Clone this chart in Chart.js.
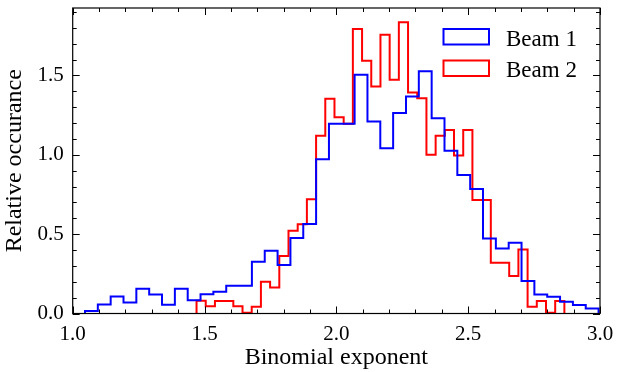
<!DOCTYPE html>
<html>
<head>
<meta charset="utf-8">
<script src="https://cdn.jsdelivr.net/npm/chart.js@4.4.1/dist/chart.umd.min.js"></script>
<style>
  html, body { margin: 0; padding: 0; background: #fff; }
  #wrap { width: 617px; height: 372px; }
</style>
</head>
<body>
<div id="wrap"><canvas id="chart" width="617" height="372"></canvas></div>
<script>
// histogram bins: first left edge and bin width for each beam
const beam1Start = 1.0466
const beam1Width = 0.0487
const beam2Start = 1.4697
const beam2Width = 0.03488

// relative occurance per bin (40 bins each)
const beam1 = [
  0.015, 0.057, 0.107, 0.069, 0.156, 0.120, 0.055, 0.156, 0.084, 0.122,
  0.137, 0.175, 0.175, 0.326, 0.396, 0.305, 0.476, 0.564, 0.972, 1.195,
  1.195, 1.505, 1.210, 1.042, 1.263, 1.368, 1.526, 1.231, 1.025, 0.873,
  0.785, 0.473, 0.410, 0.446, 0.204, 0.120, 0.105, 0.074, 0.053, 0.032
]
const beam2 = [
  0.080, 0.046, 0.078, 0.078, 0.046, 0.004, 0.042, 0.200, 0.164, 0.362,
  0.522, 0.562, 0.720, 1.120, 1.353, 1.237, 1.195, 1.793, 1.593, 1.431,
  1.757, 1.473, 1.835, 1.393, 1.357, 1.000, 1.120, 1.157, 0.995, 1.157,
  0.715, 0.715, 0.320, 0.320, 0.236, 0.404, 0.042, 0.078, 0.004, 0.078
]

const labels = ['Beam 1', 'Beam 2']
const xTicks = [1.0, 1.5, 2.0, 2.5, 3.0]
const yTicks = [0.0, 0.5, 1.0, 1.5]

const FONT = '"Liberation Serif", "DejaVu Serif", serif'

// turn bin values into the corner points of a step outline
function stepPoints(start, width, vals) {
  let pts = [{x: start, y: 0}]
  for (let i = 0; i < vals.length; i++) {
    pts.push({x: start + i * width, y: vals[i]})
  }
  pts.push({x: start + vals.length * width, y: 0})
  return pts
}

function make_dataset(label, color, pts) {
  return {
    label: label,
    data: pts,
    borderColor: color,
    backgroundColor: 'rgba(0,0,0,0)',
    borderWidth: 2,
    pointRadius: 0,
    // 'before' = go across at the old value, then up/down at the new edge
    stepped: 'before',
    fill: false,
    clip: 4
  }
}

// frame with inward ticks on all four sides, plus the legend box
const framePlugin = {
  id: 'frame',
  afterDatasetsDraw(chart) {
    const ctx = chart.ctx
    const a = chart.chartArea
    const xs = chart.scales.x
    const ys = chart.scales.y
    ctx.save()
    ctx.strokeStyle = '#000'
    ctx.lineWidth = 1
    ctx.beginPath()
    // minor ticks every 0.1
    for (let v = 10; v <= 30; v++) {
      const px = Math.round(xs.getPixelForValue(v / 10)) + 0.5
      const len = (v % 5 == 0) ? 7 : 4
      ctx.moveTo(px, a.bottom); ctx.lineTo(px, a.bottom - len)
      ctx.moveTo(px, a.top); ctx.lineTo(px, a.top + len)
    }
    for (let v = 0; v <= 19; v++) {
      const py = Math.round(ys.getPixelForValue(v / 10)) + 0.5
      const len = (v % 5 == 0) ? 7 : 4
      ctx.moveTo(a.left, py); ctx.lineTo(a.left + len, py)
      ctx.moveTo(a.right, py); ctx.lineTo(a.right - len, py)
    }
    ctx.stroke()
    ctx.lineWidth = 1.2
    ctx.strokeRect(a.left, a.top, a.right - a.left, a.bottom - a.top)

    // legend
    ctx.font = '23px ' + FONT
    ctx.textBaseline = 'alphabetic'
    ctx.fillStyle = '#000'
    chart.data.datasets.forEach((ds, i) => {
      const top = 29 + i * 31.5
      ctx.strokeStyle = ds.borderColor
      ctx.lineWidth = 2
      ctx.strokeRect(443.5, top, 45.5, 15.5)
      ctx.fillText(ds.label, 506, top + 16.5)
    })
    ctx.restore()
  }
}

const data = {
  datasets: [
    make_dataset(labels[0], '#0000ff', stepPoints(beam1Start, beam1Width, beam1)),
    make_dataset(labels[1], '#ff0000', stepPoints(beam2Start, beam2Width, beam2))
  ]
}

const config = {
  type: 'line',
  data: data,
  options: {
    responsive: false,
    devicePixelRatio: 1,
    animation: false,
    layout: {padding: {top: 8, right: 17, left: 0, bottom: 0}},
    plugins: {legend: {display: false}, tooltip: {enabled: false}},
    scales: {
      x: {
        type: 'linear',
        min: 1.0,
        max: 3.0,
        afterBuildTicks: s => { s.ticks = xTicks.map(v => ({value: v})) },
        afterFit: s => { s.height = 58.5; s.paddingLeft = 0; s.paddingRight = 0 },
        ticks: {
          color: '#000',
          padding: 8,
          maxRotation: 0,
          font: {family: FONT, size: 21},
          callback: v => v.toFixed(1)
        },
        grid: {display: false, drawTicks: false},
        border: {display: false},
        title: {
          display: true,
          text: 'Binomial exponent',
          color: '#000',
          font: {family: FONT, size: 24},
          padding: {top: 0, bottom: 0}
        }
      },
      y: {
        type: 'linear',
        min: 0,
        max: 1.925,
        afterBuildTicks: s => { s.ticks = yTicks.map(v => ({value: v})) },
        afterFit: s => { s.width = 72.7; s.paddingTop = 0; s.paddingBottom = 0 },
        ticks: {
          color: '#000',
          padding: 9,
          font: {family: FONT, size: 21},
          callback: v => v.toFixed(1)
        },
        grid: {display: false, drawTicks: false},
        border: {display: false},
        title: {
          display: true,
          text: 'Relative occurance',
          color: '#000',
          font: {family: FONT, size: 24},
          padding: {top: 0, bottom: 0}
        }
      }
    }
  },
  plugins: [framePlugin]
}

new Chart(document.getElementById('chart'), config)
</script>
</body>
</html>
